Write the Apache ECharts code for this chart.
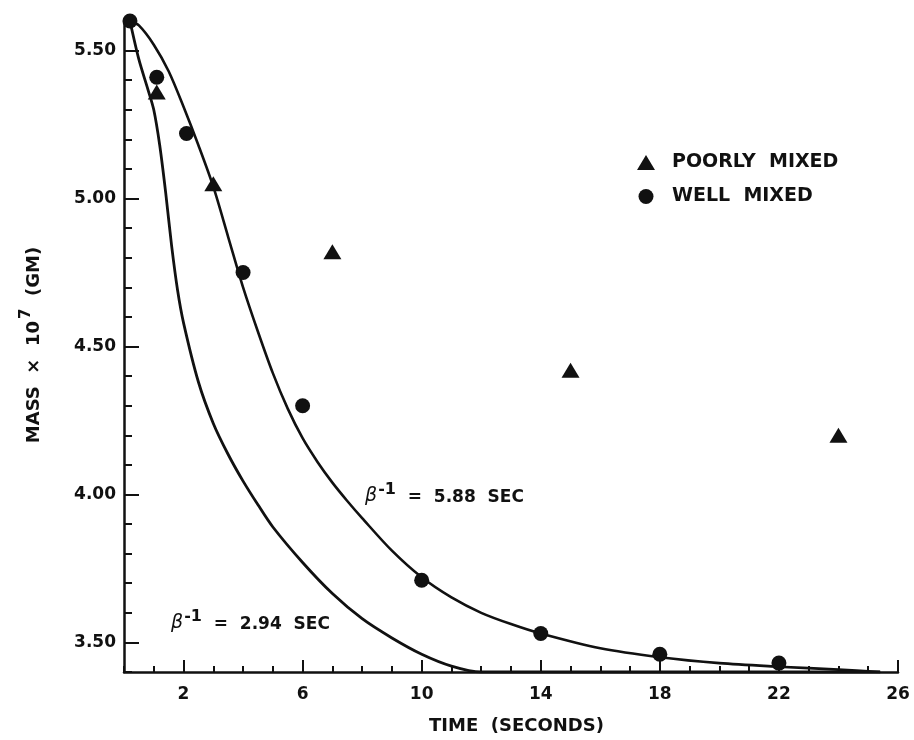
<!DOCTYPE html>
<html>
<head>
<meta charset="utf-8">
<title>Mass decay, poorly vs well mixed</title>
<script src="https://cdn.jsdelivr.net/npm/echarts@6/dist/echarts.min.js"></script>
<style>
  html, body { margin: 0; padding: 0; background: #fff; }
  #chart { width: 914px; height: 740px; }
</style>
</head>
<body>
<div id="chart"></div>
<script>
// Measured points (time in seconds, mass x 10^7 gm)
const wellT    = [0.2, 1.1, 2.1, 4.0, 6.0, 10.0, 14.0, 18.0, 22.0];
const wellMass = [5.60, 5.41, 5.22, 4.75, 4.30, 3.71, 3.53, 3.46, 3.43];
const poorT    = [1.1, 3.0, 7.0, 15.0, 24.0];
const poorMass = [5.36, 5.05, 4.82, 4.42, 4.20];

// Fitted curve, beta^-1 = 5.88 sec
const slowT    = [0.2, 0.5, 1.0, 1.5, 2.0, 2.5, 3.0, 3.5, 4.0, 4.5, 5.0, 5.5, 6.0, 6.5, 7.0, 7.5, 8.0, 9.0, 10.0, 11.0, 12.0, 13.0, 14.0, 16.0, 18.0, 20.0, 22.0, 24.0, 25.4];
const slowMass = [5.60, 5.585, 5.52, 5.43, 5.31, 5.18, 5.04, 4.87, 4.70, 4.55, 4.41, 4.29, 4.19, 4.11, 4.04, 3.978, 3.92, 3.81, 3.72, 3.652, 3.60, 3.562, 3.53, 3.48, 3.45, 3.43, 3.418, 3.408, 3.40];

// Fitted curve, beta^-1 = 2.94 sec
const fastT    = [0.2, 0.5, 0.8, 1.0, 1.2, 1.4, 1.6, 1.8, 2.0, 2.5, 3.0, 3.5, 4.0, 4.5, 5.0, 6.0, 7.0, 8.0, 9.0, 10.0, 11.0, 12.0, 14.0, 25.4];
const fastMass = [5.60, 5.47, 5.37, 5.30, 5.18, 5.02, 4.84, 4.69, 4.58, 4.38, 4.24, 4.135, 4.045, 3.965, 3.89, 3.77, 3.665, 3.58, 3.515, 3.46, 3.42, 3.40, 3.40, 3.40];

// Axis ticks
const xMajorTicks = [2, 6, 10, 14, 18, 22, 26];
const yMajorTicks = [3.5, 4.0, 4.5, 5.0, 5.5];

const zip = (xs, ys) => xs.map((x, i) => [x, ys[i]]);

const INK = '#111';
const FONT = '"DejaVu Sans", Verdana, sans-serif';
const labelStyle = { color: INK, fontFamily: FONT, fontWeight: 'bold', fontSize: 17 };

const chart = echarts.init(document.getElementById('chart'), null, { renderer: 'canvas' });

const betaRich = {
  b: { fill: INK, fontFamily: FONT, fontStyle: 'italic', fontSize: 19, verticalAlign: 'bottom' },
  s: { fill: INK, fontFamily: FONT, fontWeight: 'bold', fontSize: 16, verticalAlign: 'bottom', padding: [0, 0, 8, 1] },
  t: { fill: INK, fontFamily: FONT, fontWeight: 'bold', fontSize: 17, verticalAlign: 'bottom' }
};

const option = {
  backgroundColor: '#fff',
  animation: false,
  grid: { left: 124, right: 16, top: 21, bottom: 68 },
  xAxis: [
    {
      type: 'value', min: 0, max: 26, interval: 1,
      axisLine: { lineStyle: { color: INK, width: 2.5 } },
      axisTick: { inside: true, length: 6, lineStyle: { color: INK, width: 2 } },
      axisLabel: Object.assign({
        margin: 14,
        formatter: v => (xMajorTicks.indexOf(v) >= 0 ? String(v) : '')
      }, labelStyle),
      splitLine: { show: false }
    },
    {
      type: 'value', min: 0, max: 26, position: 'bottom',
      axisLine: { show: false },
      axisTick: { inside: true, length: 12, customValues: xMajorTicks, lineStyle: { color: INK, width: 2 } },
      axisLabel: { show: false },
      splitLine: { show: false }
    }
  ],
  yAxis: [
    {
      type: 'value', min: 3.4, max: 5.6, interval: 0.1,
      axisLine: { lineStyle: { color: INK, width: 2.5 } },
      axisTick: { inside: true, length: 8, lineStyle: { color: INK, width: 2 } },
      axisLabel: Object.assign({
        margin: 8,
        formatter: v => {
          const r = Math.round(v * 100) / 100;
          return yMajorTicks.some(t => Math.abs(t - r) < 1e-6) ? r.toFixed(2) : '';
        }
      }, labelStyle),
      splitLine: { show: false }
    },
    {
      type: 'value', min: 3.4, max: 5.6, position: 'left',
      axisLine: { show: false },
      axisTick: { inside: true, length: 15, customValues: yMajorTicks, lineStyle: { color: INK, width: 2 } },
      axisLabel: { show: false },
      splitLine: { show: false }
    }
  ],
  legend: {
    orient: 'vertical',
    left: 637, top: 153,
    itemWidth: 18, itemHeight: 15, itemGap: 15,
    padding: 0,
    data: [
      { name: 'POORLY  MIXED', icon: 'triangle' },
      { name: 'WELL  MIXED', icon: 'circle' }
    ],
    itemStyle: { opacity: 1 },
    textStyle: { color: INK, fontFamily: FONT, fontWeight: 'bold', fontSize: 19, padding: [0, 0, 0, 12] }
  },
  series: [
    {
      name: 'β-1 = 5.88 SEC', type: 'line', data: zip(slowT, slowMass),
      smooth: 0.3, showSymbol: false,
      lineStyle: { color: INK, width: 2.6 }, z: 2
    },
    {
      name: 'β-1 = 2.94 SEC', type: 'line', data: zip(fastT, fastMass),
      smooth: 0.3, showSymbol: false,
      lineStyle: { color: INK, width: 2.8 }, z: 2
    },
    {
      name: 'POORLY  MIXED', type: 'scatter', data: zip(poorT, poorMass),
      symbol: 'triangle', symbolSize: [18, 15],
      itemStyle: { color: INK, opacity: 1 }, z: 3
    },
    {
      name: 'WELL  MIXED', type: 'scatter', data: zip(wellT, wellMass),
      symbol: 'circle', symbolSize: 15,
      itemStyle: { color: INK, opacity: 1 }, z: 3
    }
  ],
  graphic: [
    {
      type: 'text', left: 429, top: 717,
      style: { text: 'TIME  (SECONDS)', fill: INK, font: 'bold 18px ' + FONT }
    },
    {
      type: 'text', x: 31, y: 345, rotation: Math.PI / 2,
      style: {
        text: '{t|MASS  ×  10}{s|7}{t|  (GM)}',
        align: 'center', verticalAlign: 'middle',
        rich: {
          t: { fill: INK, fontFamily: FONT, fontWeight: 'bold', fontSize: 18, verticalAlign: 'bottom' },
          s: { fill: INK, fontFamily: FONT, fontWeight: 'bold', fontSize: 15, verticalAlign: 'bottom', padding: [0, 0, 9, 2] }
        }
      }
    },
    {
      type: 'text', left: 365, top: 482,
      style: { text: '{b|β}{s|-1}{t|  =  5.88  SEC}', rich: betaRich }
    },
    {
      type: 'text', left: 171, top: 609,
      style: { text: '{b|β}{s|-1}{t|  =  2.94  SEC}', rich: betaRich }
    }
  ]
};

chart.setOption(option);
</script>
</body>
</html>
